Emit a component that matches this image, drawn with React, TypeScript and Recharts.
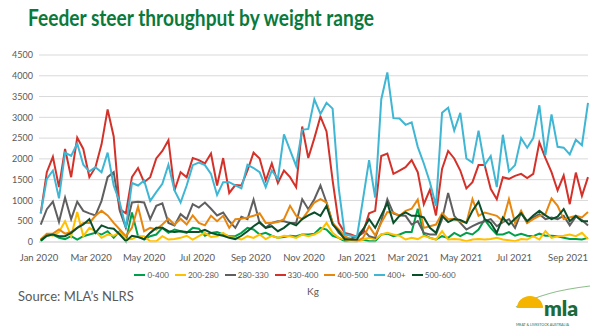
import React from 'react';
import { LineChart, Line, XAxis, YAxis, CartesianGrid, Legend } from 'recharts';

// weekly throughput, first week ending 3 Jan 2020
const firstWeek = '2020-01-03';
const weekCount = 91;

const tickDates = ['2020-01-01', '2020-03-01', '2020-05-01', '2020-07-01', '2020-09-01', '2020-11-01',
  '2021-01-01', '2021-03-01', '2021-05-01', '2021-07-01', '2021-09-01'];
const tickLabels = ['Jan 2020', 'Mar 2020', 'May 2020', 'Jul 2020', 'Sep 2020', 'Nov 2020',
  'Jan 2021', 'Mar 2021', 'May 2021', 'Jul 2021', 'Sep 2021'];
const yTicks = [0, 500, 1000, 1500, 2000, 2500, 3000, 3500, 4000, 4500];

const w0to400 = [20, 150, 180, 100, 70, 140, 60, 140, 180, 220, 180, 260, 100, 260, 20, 710, 140, 60, 140, 180, 340, 220, 300,
  260, 220, 340, 320, 150, 220, 240, 180, 140, 140, 220, 340, 300, 180, 220, 150, 100, 120, 150, 140, 180, 180, 200, 340, 300, 150, 100, 20, 20, 20, 60, 20,
  20, 180, 200, 140, 180, 240, 240, 800, 180, 100, 60, 140, 100, 220, 140, 220, 180, 300, 540, 340, 180, 180, 240, 150, 200, 150, 140, 200, 150, 150, 140, 100, 70, 70, 60, 100];
const w200to280 = [60, 180, 150, 240, 500, 140, 720, 140, 340, 260, 100, 180, 150, 240, 60, 70, 140, 140, 20, 20, 140, 60, 70,
  100, 150, 60, 140, 220, 120, 140, 220, 120, 100, 60, 140, 100, 180, 70, 150, 100, 150, 140, 100, 180, 140, 180, 260, 460, 220, 100, 60, 20, 20, 60, 100,
  60, 180, 220, 180, 150, 60, 100, 70, 150, 100, 60, 260, 60, 70, 60, 20, 60, 70, 60, 70, 100, 60, 40, 20, 70, 60, 140, 60, 260, 100, 140, 150, 180, 140, 220, 70];
const w280to330 = [420, 790, 970, 480, 1070, 550, 970, 750, 690, 640, 990, 1560, 1680, 750, 340, 950, 970, 950, 550, 870, 930, 460, 400,
  670, 550, 910, 830, 950, 800, 640, 710, 500, 340, 610, 550, 1020, 460, 340, 460, 500, 500, 460, 460, 1030, 790, 1030, 1360, 950, 460, 220, 100, 80, 140, 300, 140,
  100, 500, 1030, 690, 640, 630, 420, 500, 220, 180, 180, 550, 1180, 630, 460, 300, 380, 450, 500, 550, 380, 480, 550, 340, 710, 460, 590, 670, 550, 590, 550, 630, 400, 610, 530, 400];
const w330to400 = [690, 1680, 2050, 1320, 2240, 1560, 2510, 2240, 1560, 1800, 2350, 3190, 2540, 790, 690, 1560, 1780, 1440, 1560, 2010, 2190, 2450, 1240,
  1680, 1560, 2020, 1970, 1890, 2130, 1360, 2020, 1180, 1370, 1360, 1720, 2150, 2010, 1480, 1890, 1420, 1720, 1560, 1320, 2780, 2020, 2500, 3020, 2660, 1480, 460, 220, 180, 120, 220, 690,
  750, 2070, 2130, 1640, 1720, 1800, 1970, 1680, 910, 1260, 640, 1760, 2190, 2010, 1720, 1290, 1440, 1850, 1850, 1280, 1030, 1560, 1520, 1590, 1640, 1540, 1640, 2400, 2020, 1680, 1240, 1600, 910, 1670, 1110, 1560];
const w400to500 = [60, 200, 200, 300, 200, 240, 340, 460, 460, 630, 750, 640, 460, 300, 140, 340, 850, 260, 340, 300, 420, 560, 420,
  560, 420, 640, 460, 400, 630, 500, 630, 340, 550, 560, 590, 630, 690, 460, 460, 480, 550, 870, 630, 550, 750, 950, 1030, 950, 460, 300, 140, 60, 20, 100, 380,
  160, 460, 720, 710, 630, 750, 800, 1020, 340, 380, 420, 690, 550, 560, 500, 460, 1030, 630, 710, 670, 630, 500, 1030, 460, 750, 460, 550, 630, 670, 1050, 870, 550, 590, 630, 590, 720];
const w400plus = [690, 1520, 1720, 1050, 2150, 2070, 2370, 1860, 1700, 1800, 1680, 2150, 1360, 950, 340, 1420, 1360, 1480, 990, 1200, 1400, 1860, 1240,
  950, 1360, 1850, 1910, 1850, 1640, 1130, 1440, 1440, 1360, 1290, 1860, 1780, 1680, 1320, 1720, 1520, 2590, 2210, 1830, 2700, 2720, 3430, 3080, 3350, 3210, 1300, 180, 150, 120, 1030, 1970,
  1070, 3430, 4080, 2980, 2970, 2820, 2880, 2290, 1890, 1440, 870, 3110, 3230, 2680, 3110, 2010, 1910, 2680, 1850, 2070, 1320, 2580, 1700, 1850, 2500, 2270, 2500, 3290, 2090, 3070, 2290, 2270, 2110, 2460, 2330, 3350];
const w500to600 = [40, 150, 180, 140, 140, 220, 340, 420, 550, 220, 400, 340, 320, 180, 20, 150, 120, 70, 220, 340, 340, 260, 240,
  260, 240, 240, 240, 290, 220, 180, 150, 100, 70, 150, 260, 380, 480, 340, 380, 260, 340, 460, 400, 550, 640, 710, 630, 870, 420, 260, 60, 60, 60, 300, 550,
  340, 640, 940, 460, 630, 710, 630, 630, 590, 340, 220, 630, 480, 550, 530, 460, 750, 970, 550, 460, 220, 590, 420, 560, 690, 500, 640, 750, 640, 550, 610, 790, 500, 630, 500, 500];

const seriesNames = ['0-400', '200-280', '280-330', '330-400', '400-500', '400+', '500-600'];
const seriesValues = [w0to400, w200to280, w280to330, w330to400, w400to500, w400plus, w500to600];
const seriesColors = ['#00A04B', '#FFC000', '#5F5F5F', '#D3322A', '#E8870E', '#3FB6D3', '#0B4F2A'];

const DAY = 86400000;
const origin = Date.UTC(2020, 0, 1);
const toDay = (s: string) => Math.round((Date.parse(s + 'T00:00:00Z') - origin) / DAY);
const start = toDay(firstWeek);

const data: any[] = [];
for (let i = 0; i < weekCount; i++) {
  const row: any = { day: start + i * 7 };
  seriesNames.forEach((n, k) => { row[n] = seriesValues[k][i]; });
  data.push(row);
}
const ticks = tickDates.map(toDay);
const lastDay = start + (weekCount - 1) * 7;

const grey = '#595959';
const font = 'Lato, "Open Sans", sans-serif';

const renderLegend = () => (
  <div style={{ display: 'flex', justifyContent: 'center', alignItems: 'center', fontSize: 8, color: grey, fontFamily: font, paddingLeft: 8 }}>
    {seriesNames.map((n, k) => (
      <div key={n} style={{ display: 'flex', alignItems: 'center', marginRight: 6 }}>
        <span style={{ display: 'inline-block', width: 11, height: 2, background: seriesColors[k], marginRight: 2 }} />
        <span>{n}</span>
      </div>
    ))}
  </div>
);

const MlaLogo = () => (
  <svg width={80} height={44} style={{ position: 'absolute', left: 512, top: 283 }}>
    <path d="M4 24 Q 32 8 78 3" stroke="#8DBF8B" strokeWidth={1.2} fill="none" />
    <path d="M5 25 A 13 12 0 0 1 31 25 Z" fill="#F5B400" />
    <text x={32} y={33} fontSize={21} fontWeight={800} fill="#1E6B3A" fontFamily={font}>mla</text>
    <text x={4} y={42.5} fontSize={3.6} fill="#1E6B3A" fontFamily={font}>MEAT &amp; LIVESTOCK AUSTRALIA</text>
  </svg>
);

export default function App() {
  return (
    <div style={{ position: 'absolute', left: 0, top: 0, width: 602, height: 327, background: '#fff', fontFamily: font, overflow: 'hidden' }}>
      <div style={{ position: 'absolute', left: 28, top: 4, fontSize: 22, fontWeight: 700, color: '#0A7A3C', whiteSpace: 'nowrap',
        transform: 'scaleX(0.87)', transformOrigin: 'left top' }}>
        Feeder steer throughput by weight range
      </div>
      <div style={{ position: 'absolute', left: 0, top: 0 }}>
        <LineChart width={602} height={290} data={data} margin={{ top: 55, right: 14, left: 0, bottom: 0 }}>
          <CartesianGrid vertical={false} stroke="#D9D9D9" />
          <XAxis dataKey="day" type="number" domain={[0, lastDay]} ticks={ticks} interval={0}
            tickFormatter={(v: number) => tickLabels[ticks.indexOf(v)]}
            tickLine={false} axisLine={{ stroke: '#D9D9D9' }} height={28}
            tick={{ fontSize: 9.5, fill: grey, fontFamily: font }} tickMargin={6} />
          <YAxis domain={[0, 4500]} ticks={yTicks} interval={0} width={39} tickLine={false} axisLine={false}
            tick={{ fontSize: 9, fill: grey, fontFamily: font }} tickSize={4} />
          <Legend verticalAlign="bottom" height={20} content={renderLegend} />
          {seriesNames.map((n, k) => (
            <Line key={n} dataKey={n} stroke={seriesColors[k]} strokeWidth={2} dot={false}
              isAnimationActive={false} type="linear" />
          ))}
        </LineChart>
      </div>
      <div style={{ position: 'absolute', left: 307, top: 285, fontSize: 10, color: grey }}>Kg</div>
      <div style={{ position: 'absolute', left: 18, top: 288, fontSize: 13, color: grey }}>Source: MLA’s NLRS</div>
      <MlaLogo />
    </div>
  );
}
